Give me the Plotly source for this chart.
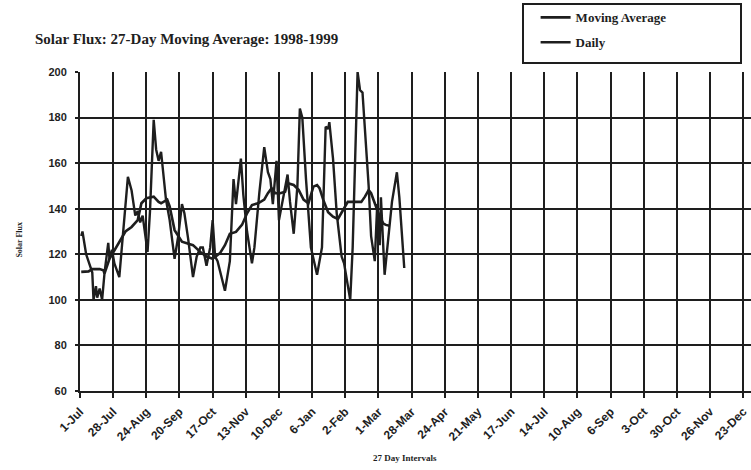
import plotly.graph_objects as go

# Tick labels (27-day intervals starting 1-Jul-1998)
tick_labels = ["1-Jul", "28-Jul", "24-Aug", "20-Sep", "17-Oct", "13-Nov", "10-Dec",
               "6-Jan", "2-Feb", "1-Mar", "28-Mar", "24-Apr", "21-May", "17-Jun",
               "14-Jul", "10-Aug", "6-Sep", "3-Oct", "30-Oct", "26-Nov", "23-Dec"]
tick_days = [i * 27 for i in range(len(tick_labels))]

# Daily solar flux (day offset from 1-Jul-1998, value)
daily_day = [1, 2, 5, 10, 11, 13, 14, 16, 18, 20, 23, 24, 26, 28, 32, 37, 39, 42, 45, 47,
             49, 51, 55, 57, 60, 62, 64, 66, 68, 70, 73, 77, 80, 83, 85, 88, 92, 95, 98, 100,
             103, 106, 108, 110, 112, 118, 122, 125, 127, 129, 131, 133, 136, 140, 142, 146,
             150, 153, 155, 157, 160, 162, 165, 169, 171, 174, 177, 179, 181, 184, 188, 193,
             197, 200, 202, 203, 206, 209, 213, 215, 220, 222, 226, 228, 230, 233, 235, 237,
             240, 242, 244, 245, 248, 251, 254, 258, 260, 264]
daily_val = [128, 130, 120, 112, 100, 106, 101, 105, 100, 112, 125, 118, 122, 116, 110, 139,
             154, 148, 137, 139, 134, 137, 121, 139, 179, 166, 161, 165, 154, 144, 135, 118,
             128, 142, 138, 127, 110, 119, 123, 123, 115, 123, 135, 119, 117, 104, 117, 153,
             142, 151, 162, 146, 130, 116, 123, 147, 167, 156, 153, 142, 161, 135, 144, 155,
             143, 129, 150, 184, 180, 153, 123, 111, 123, 176, 175, 178, 162, 138, 119, 116,
             100, 123, 200, 192, 191, 166, 150, 128, 117, 142, 124, 145, 111, 127, 143, 156,
             145, 114]

# 27-day moving average
ma_day = [1, 7, 10, 16, 19, 20, 24, 31, 37, 42, 47, 50, 54, 60, 64, 66, 71, 73, 77, 83,
          87, 92, 98, 103, 108, 114, 118, 122, 127, 132, 136, 140, 145, 150, 153, 156, 159,
          163, 167, 169, 174, 178, 182, 186, 190, 193, 195, 198, 202, 206, 210, 214, 218,
          225, 229, 232, 235, 237, 240, 244, 247, 249, 252]
ma_val = [112.3, 112.5, 113.5, 113.5, 113, 111.6, 118, 124.8, 130, 132, 135, 142.4, 144.6,
          145.3, 143, 142.4, 144, 141, 130.6, 125.5, 124.8, 124, 121, 119, 118, 120.5, 124,
          129, 129.8, 133, 138, 141.6, 142.4, 144, 146.8, 149, 146.8, 146.8, 147.5, 151.2,
          150.4, 148.3, 144, 142.4, 149.7, 150.4, 149, 144, 138.5, 136.5, 135.5, 139.5, 143,
          143, 143, 145.3, 148.2, 146.8, 142.4, 136.5, 133.5, 132.9, 132.5]

ink = "#1e1e1e"
serif = "Liberation Serif"
sans = "Liberation Sans"

fig = go.Figure()
fig.add_trace(go.Scatter(x=ma_day, y=ma_val, mode="lines", name="Moving Average",
                         line=dict(color=ink, width=2.6), legendgroup="a"))
fig.add_trace(go.Scatter(x=daily_day, y=daily_val, mode="lines", name="Daily",
                         line=dict(color=ink, width=2.4), legendgroup="b"))

fig.update_layout(
    width=751, height=470, autosize=False,
    margin=dict(l=80, r=0, t=72, b=79, autoexpand=False),
    paper_bgcolor="white", plot_bgcolor="white",
    showlegend=True,
    legend=dict(x=0.679, y=1.218, xanchor="left", yanchor="top",
                bgcolor="rgba(0,0,0,0)", borderwidth=0, tracegroupgap=5,
                font=dict(family=serif, size=13, color=ink, weight="bold")),
    title=dict(text="Solar Flux: 27-Day Moving Average: 1998-1999",
               x=35 / 751, xanchor="left", xref="container",
               y=1 - 39 / 470, yanchor="middle", yref="container",
               font=dict(family=serif, size=15, color=ink, weight="bold")),
    xaxis=dict(range=[0, 546.3], tickmode="array", tickvals=tick_days, ticktext=tick_labels,
               tickangle=-45, showgrid=True, gridcolor=ink, gridwidth=2, automargin=False,
               showline=True, linecolor=ink, linewidth=2, zeroline=False,
               ticks="outside", ticklen=5, tickwidth=2, tickcolor=ink,
               ticklabelstandoff=2,
               tickfont=dict(family=sans, size=12, color=ink, weight="bold")),
    yaxis=dict(range=[60, 200], dtick=20, showgrid=True, gridcolor=ink, gridwidth=2,
               showline=True, linecolor=ink, linewidth=2, zeroline=False, automargin=False,
               ticks="outside", ticklen=3, tickwidth=2, tickcolor=ink,
               ticklabelstandoff=6,
               tickfont=dict(family=sans, size=11, color=ink, weight="bold")),
    shapes=[dict(type="rect", xref="paper", yref="paper",
                 x0=(523 - 80) / 671, x1=(741 - 80) / 671,
                 y0=(391 - 63) / 319, y1=(391 - 4) / 319,
                 line=dict(color=ink, width=2))],
    annotations=[
        dict(text="Solar Flux", xref="paper", yref="paper", x=(13 - 80) / 671, y=0.473,
             textangle=-90, showarrow=False,
             font=dict(family=serif, size=8, color=ink, weight="bold")),
        dict(text="27 Day Intervals", xref="paper", yref="paper", x=(405 - 80) / 671,
             y=(391 - 465) / 319, showarrow=False,
             font=dict(family=serif, size=9, color=ink, weight="bold")),
    ],
)

fig.write_html("out.html", config={"displayModeBar": False},
               post_script="document.body.style.margin='0';")
